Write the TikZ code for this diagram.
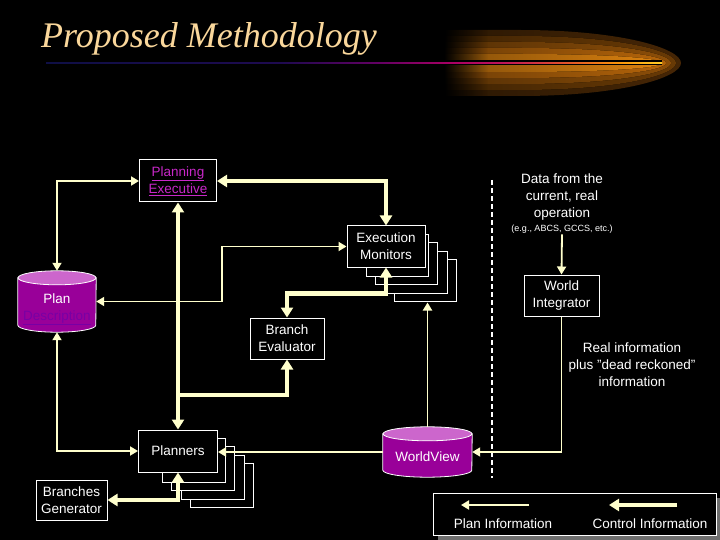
\documentclass[tikz,border=0pt]{standalone}
\usepackage{fontspec}
\setmainfont{Liberation Sans}
\newfontfamily\titleserif{Liberation Serif}
\usepackage{tikz}
\usetikzlibrary{arrows.meta,calc,backgrounds,shadows,fadings}

\definecolor{cream}{RGB}{255,255,204}
\definecolor{titlegold}{RGB}{250,215,155}
\definecolor{execmag}{RGB}{200,40,200}
\definecolor{drumbody}{RGB}{153,0,153}
\definecolor{drumtop}{RGB}{204,102,204}
\definecolor{drumlink}{RGB}{120,0,165}
\definecolor{shadowgray}{RGB}{110,110,110}
\definecolor{cometblue}{RGB}{15,15,70}
\definecolor{cometindigo}{RGB}{30,10,80}
\definecolor{cometpurple}{RGB}{100,0,100}
\definecolor{cometmag}{RGB}{170,0,100}
\definecolor{cometred}{RGB}{190,20,90}
\definecolor{cometrose}{RGB}{225,80,45}
\definecolor{cometorange}{RGB}{250,150,10}
\definecolor{cometyellow}{RGB}{255,205,40}
\definecolor{glowa}{RGB}{70,38,5}
\definecolor{glowb}{RGB}{105,58,5}
\definecolor{glowc}{RGB}{140,78,8}
\definecolor{glowd}{RGB}{180,100,10}
\definecolor{glowe}{RGB}{220,130,15}

\pgfdeclarehorizontalshading{cometline}{10bp}{color(0bp)=(cometblue); color(25bp)=(cometblue);
  color(44bp)=(cometindigo); color(52bp)=(cometpurple); color(58bp)=(cometmag);
  color(62bp)=(cometred); color(67bp)=(cometrose); color(71.5bp)=(cometorange);
  color(75bp)=(cometyellow); color(100bp)=(cometyellow)}
\tikzfading[name=fadeleft, left color=transparent!0, right color=transparent!100]

\newcommand{\boxfont}{\fontsize{13.5}{17}\selectfont}
\newcommand{\notefont}{\fontsize{9}{11}\selectfont}

% cylinder drawn behind a (borderless) node
\newcommand{\drum}[2]{%
  \begin{scope}[on background layer]
    \filldraw[fill=drumbody, draw=white, line width=0.8pt]
      ($(#1.north west)+(0,7)$) -- ($(#1.south west)+(0,-7)$)
      arc[start angle=180, end angle=360, x radius=#2pt, y radius=7pt]
      -- ($(#1.north east)+(0,7)$) -- cycle;
    \filldraw[fill=drumtop, draw=white, line width=0.8pt]
      ($(#1.north)+(0,7)$) ellipse[x radius=#2pt, y radius=7pt];
  \end{scope}}

\begin{document}
\begin{tikzpicture}
      [ x=1pt, y=-1pt,
        block/.style={draw=white, fill=black, line width=1pt, text=white,
                      inner sep=0pt, align=center, font=\boxfont},
        drumnode/.style={inner sep=0pt, align=center, text=white, font=\boxfont},
        stack/.style={draw=white, fill=black, line width=1pt},
        note/.style={text=white, inner sep=1pt, align=center, font=\boxfont},
        plan/.style={draw=cream, line width=1.8pt, >={Triangle[length=8pt,width=9pt]}},
        control/.style={draw=cream, line width=4.5pt, >={Triangle[length=10pt,width=12pt]}},
        divider/.style={draw=white, line width=1.2pt, dash pattern=on 5pt off 3pt},
        legendbox/.style={draw=white, fill=black, line width=1pt,
                          minimum width=283pt, minimum height=42pt,
                          drop shadow={shadow xshift=5pt, shadow yshift=-5pt,
                                       fill=shadowgray, opacity=1}}
      ]
      \useasboundingbox (0,0) rectangle (720,540);
      \begin{scope}[on background layer]
        \fill[black] (0,0) rectangle (720,540);
      \end{scope}

      % title and comet
      \foreach \h/\t/\c in {33/681/glowa, 27/676/glowb, 21/671/glowc, 15/666/glowd, 9/663/glowe}
        \fill[left color=\c!60!black, right color=\c]
          (445,63-\h) -- (520,63-\h) .. controls (620,63-\h) and (\t,63-0.45*\h) .. (\t,63)
          .. controls (\t,63+0.45*\h) and (620,63+\h) .. (520,63+\h) -- (445,63+\h) -- cycle;
      \fill[black, path fading=fadeleft] (444,28) rectangle (488,98);
      \fill[shading=cometline] (46,60.5) rectangle (662,65.5);
      \node[text=titlegold, anchor=base, inner sep=0pt,
            font=\titleserif\itshape\fontsize{36}{40}\selectfont] (title) at (209,48) {Proposed Methodology};

      % boxes
      \node[block, text=execmag, minimum width=77pt, minimum height=42pt]
            (pe) at (178,181) {\underline{Planning}\\\underline{Executive}};
      \node[block, minimum width=78pt, minimum height=41pt] (em) at (386,246.5) {Execution\\Monitors};
      \node[block, minimum width=75pt, minimum height=41pt] (wi) at (561.5,295.5) {World\\Integrator};
      \node[block, minimum width=74pt, minimum height=41pt] (be) at (287,338.5) {Branch\\Evaluator};
      \node[block, minimum width=79pt, minimum height=42pt] (pl) at (178,451) {Planners};
      \node[block, minimum width=71pt, minimum height=40pt] (bg) at (71.5,500) {Branches\\Generator};

      \begin{scope}[on background layer]
        \foreach \k in {4,3,2,1} {
          \filldraw[stack] ($(em.north west)+(10+9.5*\k,8.5*\k)$) rectangle +(62,42);
          \filldraw[stack] ($(pl.north west)+(14.5+9.5*\k,8.5*\k)$) rectangle +(63,44);
        }
      \end{scope}
      \coordinate (emstack) at ($(em.south)+(41,35)$);

      % data stores
      \node[drumnode, minimum width=78pt, minimum height=61pt] (pd) at (57,301.5)
            {\raisebox{-7pt}[\height][\depth]{\begin{tabular}{@{}c@{}}Plan\\{\color{drumlink}\underline{Description}}\end{tabular}}};
      \drum{pd}{39}
      \node[drumnode, minimum width=89pt, minimum height=50pt] (wv) at (427.5,452)
            {\raisebox{-5pt}[\height][\depth]{WorldView}};
      \drum{wv}{44.5}

      % notes
      \node[note] (datasrc) at (562,197) {Data from the\\current, real\\operation};
      \node[note, font=\notefont] (egnote) at (562,229) {(e.g., ABCS, GCCS, etc.)};
      \node[note] (realinfo) at (632,365) {Real information\\plus "dead reckoned"\\information};
      \draw[divider] (492,180) -- (492,478);

      % plan information
      \draw[plan,<->] (pd.north) |- (pe.west);
      \draw[plan,<->] (pd.south) |- (pl.west);
      \draw[plan,<->] (pd.east) -- ++(126,0) |- (em.west);
      \draw[plan,->] (wv.north) -- (wv.north |- emstack);
      \draw[plan,->] (wv.west) -- (wv.west -| pl.east);
      \draw[plan,->] (wi.south) |- (wv.east);
      \draw[plan,->] (egnote.south) -- (wi.north);

      % control information
      \coordinate (fork) at (178,395);
      \draw[control,<->] (em.north) |- (pe.east);
      \draw[control,<->] (pl.north) -- (pe.south);
      \draw[control,->] (fork) -| (be.south);
      \draw[control,<->] (em.south) -- ++(0,26) -| (be.north);
      \draw[control,<->] (pl.south) |- (bg.east);

      % legend
      \node[legendbox] (legend) at (574.5,514) {};
      \coordinate (planfrom) at (529,505);
      \coordinate (planto)   at (461,505);
      \coordinate (ctlfrom)  at (677,505);
      \coordinate (ctlto)    at (609,505);
      \draw[plan,->] (planfrom) -- (planto);
      \draw[control,->] (ctlfrom) -- (ctlto);
      \node[note] (planlbl) at (503,524) {Plan Information};
      \node[note] (ctllbl)  at (650,524) {Control Information};
\end{tikzpicture}
\end{document}
